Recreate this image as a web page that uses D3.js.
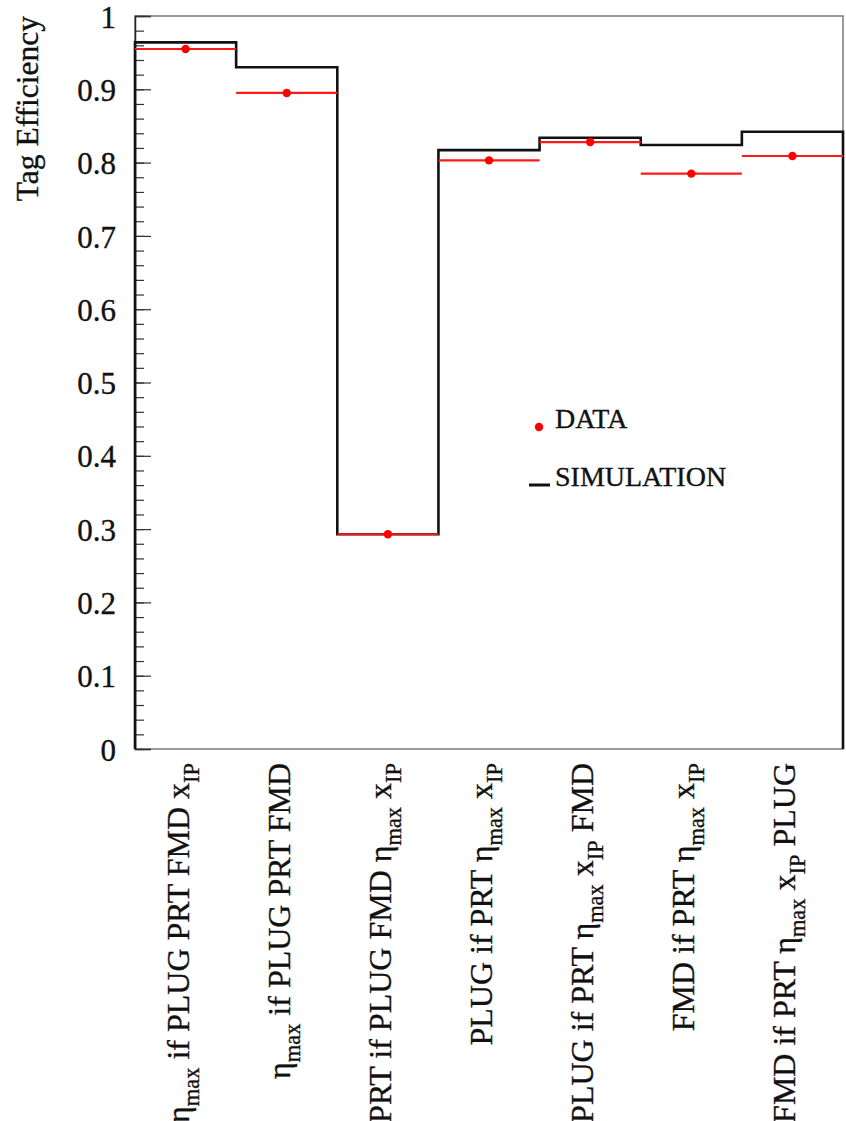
<!DOCTYPE html>
<html>
<head>
<meta charset="utf-8">
<script src="https://cdn.jsdelivr.net/npm/d3@7"></script>
<style>
  body { margin: 0; background: #fff; }
  svg text { font-family: "Liberation Serif", "Times New Roman", serif; fill: #111; stroke: #111; stroke-width: 0.35px; }
</style>
</head>
<body>
<div id="chart"></div>
<script>
// Selection categories; "_{..}" marks a subscript
const categories = [
  "η_{max} if PLUG PRT FMD x_{IP}",
  "η_{max} if PLUG PRT FMD",
  "PRT if PLUG FMD η_{max} x_{IP}",
  "PLUG if PRT η_{max} x_{IP}",
  "PLUG if PRT η_{max} x_{IP} FMD",
  "FMD if PRT η_{max} x_{IP}",
  "FMD if PRT η_{max} x_{IP} PLUG"
]

// Tag efficiency per category
const simulation = [0.964, 0.930, 0.293, 0.817, 0.834, 0.824, 0.842]
const data = [0.955, 0.895, 0.293, 0.803, 0.828, 0.785, 0.809]

const yTicks = [0, 0.1, 0.2, 0.3, 0.4, 0.5, 0.6, 0.7, 0.8, 0.9, 1]
const yTickLabels = ["0", "0.1", "0.2", "0.3", "0.4", "0.5", "0.6", "0.7", "0.8", "0.9", "1"]

const width = 846
const height = 1121
const margin = { left: 135, right: 3, top: 16, bottom: 372 }

const svg = d3
  .select("#chart")
  .append("svg")
  .attr("width", width)
  .attr("height", height)

const x = d3
  .scaleLinear()
  .domain([0, categories.length])
  .range([margin.left, width - margin.right])
const y = d3
  .scaleLinear()
  .domain([0, 1])
  .range([height - margin.bottom, margin.top])

// Frame
svg
  .append("rect")
  .attr("x", x(0))
  .attr("y", y(1))
  .attr("width", x(categories.length) - x(0))
  .attr("height", y(0) - y(1))
  .style("fill", "none")
  .style("stroke", "#7a7a7a")
  .style("stroke-width", 1.5)

// Minor ticks every 0.02
svg
  .append("g")
  .attr("transform", `translate(${x(0)},0)`)
  .call(
    d3
      .axisLeft(y)
      .tickValues(d3.range(0, 1.001, 0.02))
      .tickSize(-9)
      .tickFormat("")
  )
  .call((g) => g.select(".domain").remove())
  .call((g) => g.selectAll("line").style("stroke", "#333").style("stroke-width", 1.2))

// Major ticks with labels
svg
  .append("g")
  .attr("transform", `translate(${x(0)},0)`)
  .call(
    d3
      .axisLeft(y)
      .tickValues(yTicks)
      .tickSize(-16)
      .tickPadding(19)
      .tickFormat((d, i) => yTickLabels[i])
  )
  .attr("font-family", null)
  .attr("font-size", null)
  .call((g) =>
    g
      .select(".domain")
      .style("stroke", "#222")
      .style("stroke-width", 1.5)
  )
  .call((g) => g.selectAll("line").style("stroke", "#333").style("stroke-width", 1.2))
  .call((g) =>
    g
      .selectAll("text")
      .attr("dy", "0.36em")
      .style("font-size", "31px")
  )

// Axis title
svg
  .append("text")
  .attr("transform", `translate(38,${y(1)}) rotate(-90)`)
  .attr("text-anchor", "end")
  .style("font-size", "31.5px")
  .text("Tag Efficiency")

// Simulation histogram outline
const steps = [[x(0), y(0)]]
simulation.forEach((v, i) => {
  steps.push([x(i), y(v)])
  steps.push([x(i + 1), y(v)])
})
steps.push([x(simulation.length), y(0)])

svg
  .append("path")
  .attr("d", d3.line()(steps))
  .style("fill", "none")
  .style("stroke", "#111")
  .style("stroke-width", 2.6)

// Data points with bin-width bars
const points = svg.append("g").attr("class", "data")
points
  .selectAll("line")
  .data(data)
  .enter()
  .append("line")
  .attr("x1", (d, i) => x(i))
  .attr("x2", (d, i) => x(i + 1))
  .attr("y1", (d) => y(d))
  .attr("y2", (d) => y(d))
  .style("stroke", "#ff1a1a")
  .style("stroke-width", 2.2)
points
  .selectAll("circle")
  .data(data)
  .enter()
  .append("circle")
  .attr("cx", (d, i) => x(i + 0.5))
  .attr("cy", (d) => y(d))
  .attr("r", 4.2)
  .style("fill", "#f00")

// Rotated category labels with subscripts
const labelSize = 32
const subShift = 10
svg
  .append("g")
  .attr("class", "labels")
  .selectAll("text")
  .data(categories)
  .enter()
  .append("text")
  .attr("transform", (d, i) => `translate(${x(i + 0.5) + 3},${y(0) + 14}) rotate(-90)`)
  .attr("text-anchor", "end")
  .style("font-size", `${labelSize}px`)
  .each(function (d) {
    const text = d3.select(this)
    let shift = 0
    d.split(/(_\{[^}]*\})/)
      .filter((s) => s.length)
      .forEach((part) => {
        const isSub = part.startsWith("_{")
        const target = isSub ? subShift : 0
        const span = text.append("tspan").text(isSub ? part.slice(2, -1) : part)
        if (target !== shift) span.attr("dy", target - shift)
        if (isSub) span.style("font-size", `${labelSize * 0.7}px`)
        shift = target
      })
  })

// Legend
const legend = svg.append("g").attr("class", "legend")
legend
  .append("circle")
  .attr("cx", 539)
  .attr("cy", 427)
  .attr("r", 4.2)
  .style("fill", "#f00")
legend
  .append("text")
  .attr("x", 555)
  .attr("y", 428)
  .style("font-size", "28px")
  .text("DATA")
legend
  .append("line")
  .attr("x1", 529)
  .attr("x2", 550)
  .attr("y1", 485)
  .attr("y2", 485)
  .style("stroke", "#111")
  .style("stroke-width", 3)
legend
  .append("text")
  .attr("x", 555)
  .attr("y", 486)
  .style("font-size", "28px")
  .text("SIMULATION")
</script>
</body>
</html>
